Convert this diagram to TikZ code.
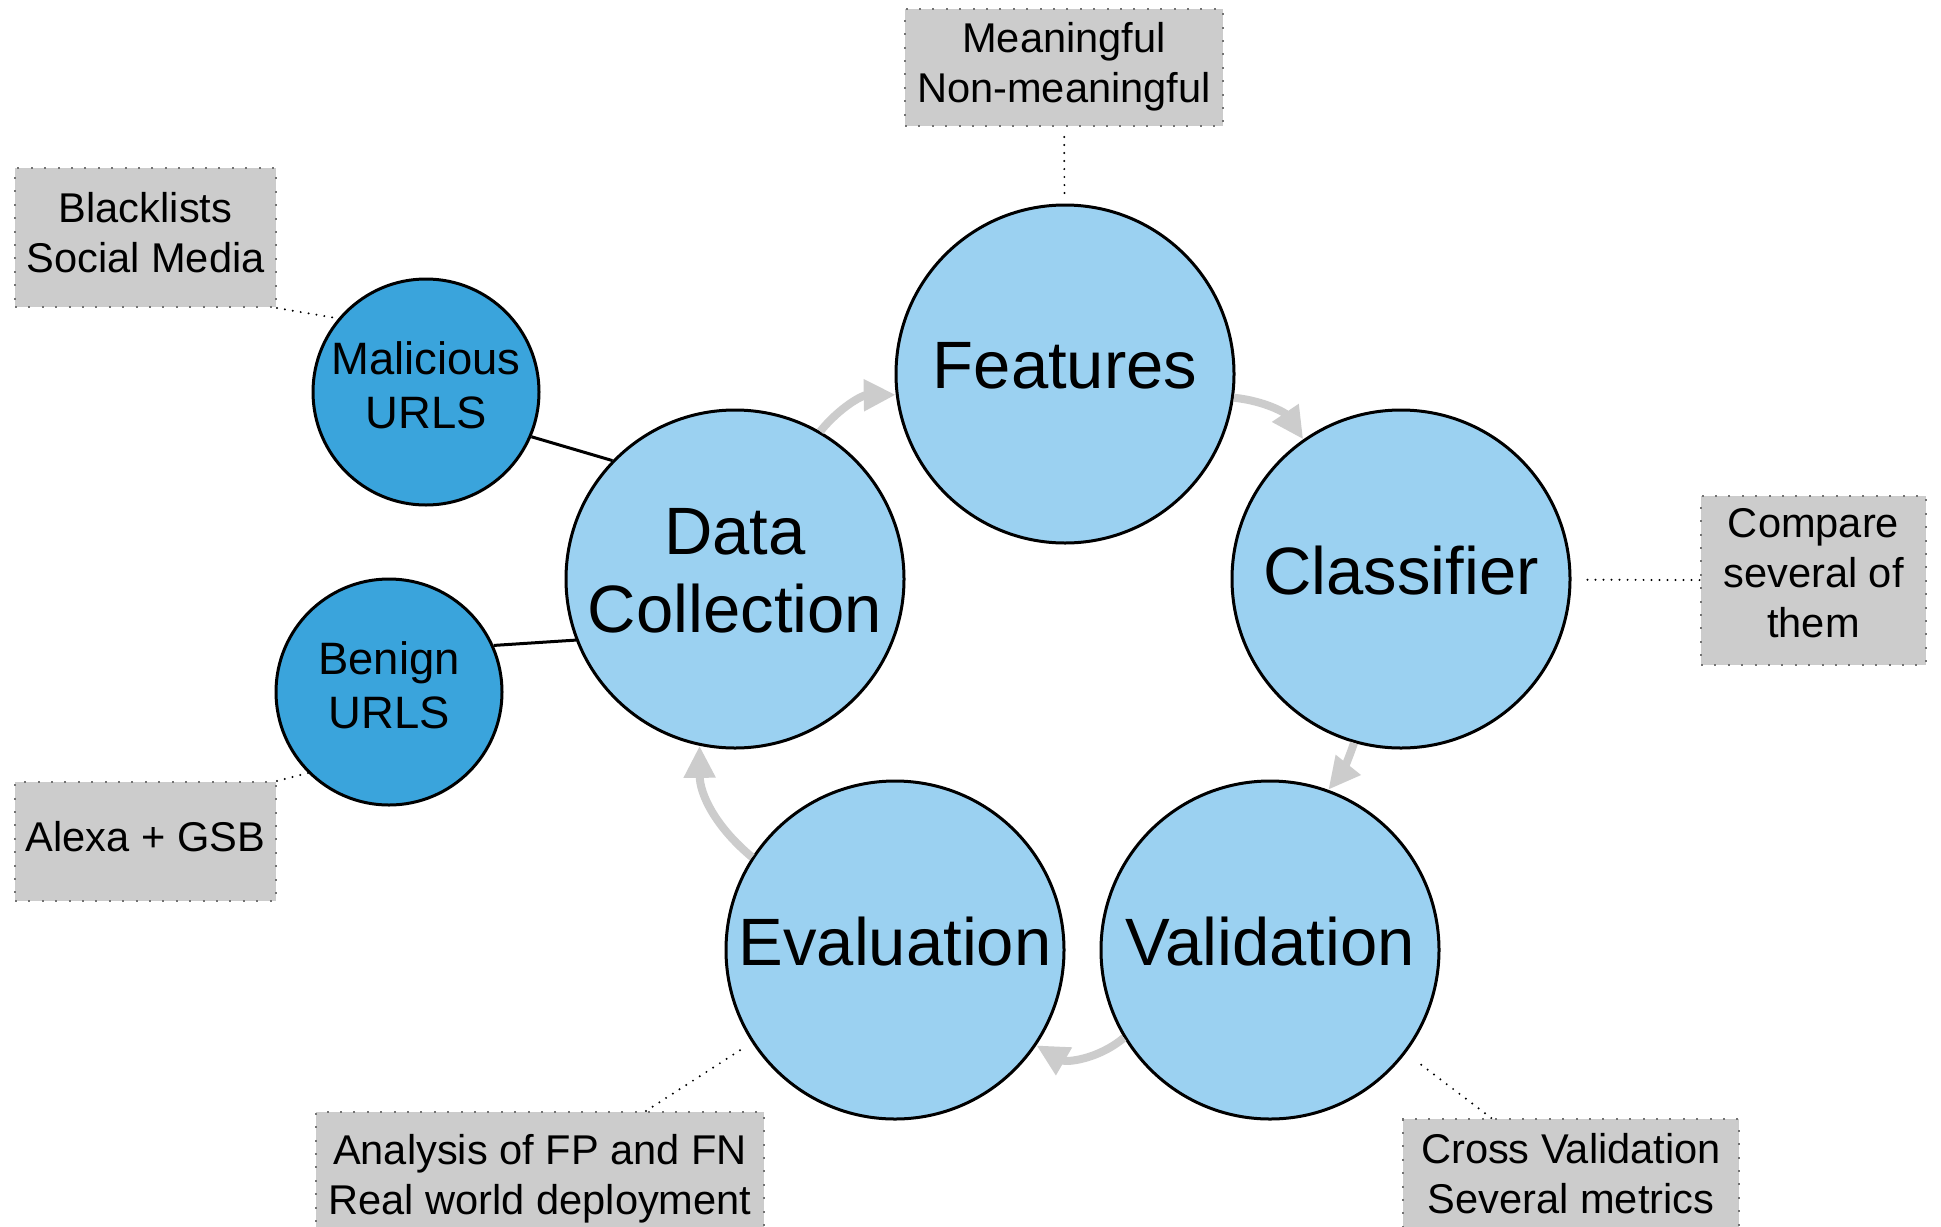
\documentclass[tikz,border=0pt]{standalone}
\usepackage{fontspec}
\setmainfont{Liberation Sans}
\usetikzlibrary{arrows.meta}
\definecolor{stepblue}{HTML}{9BD1F1}
\definecolor{urlblue}{HTML}{3AA4DC}
\definecolor{notegray}{HTML}{CCCCCC}

\begin{document}
\begin{tikzpicture}[x=0.5pt, y=-0.5pt,
    stage/.style = {circle, draw, line width=1.5pt, fill=stepblue,
      minimum size=169pt, inner sep=0pt, align=center, text depth=8.6pt,
      font=\fontsize{33.5}{39}\selectfont},
    source/.style = {circle, draw, line width=1.5pt, fill=urlblue,
      minimum size=113pt, inner sep=0pt, align=center, text depth=7.4pt,
      font=\fontsize{22.7}{27}\selectfont},
    note/.style = {draw=black!55, fill=notegray, line width=1pt,
      dash pattern=on 1pt off 5.7pt, inner sep=0pt, align=center,
      text depth=4.6pt, font=\fontsize{20.8}{25}\selectfont},
    flow/.style = {draw=notegray, line width=4pt,
      -{Triangle[length=16pt,width=15pt]}},
    hint/.style = {line width=1.1pt, line cap=round, dash pattern=on 0pt off 4pt}
    ]
    \useasboundingbox (0,0) rectangle (1941,1226);
    \fill[white] (0,0) rectangle (1941,1226);
    \clip (0,0) rectangle (1941,1226);

    % main cycle
    \node[stage] (feat) at (1065,374) {Features};
    \node[stage] (class) at (1401,579) {Classifier};
    \node[stage] (valid) at (1270,950) {Validation};
    \node[stage] (eval) at (895,950) {Evaluation};
    \node[stage] (data) at (735,579) {Data\\Collection};

    % url sources
    \node[source] (mal) at (426,392) {Malicious\\URLS};
    \node[source] (ben) at (389,692) {Benign\\URLS};

    % notes
    \node[note, minimum width=159pt, minimum height=58.5pt] (meaning) at (1064,67.5) {Meaningful\\Non-meaningful};
    \node[note, minimum width=130.5pt, minimum height=69.5pt] (black) at (145.5,237.5) {Blacklists\\Social Media};
    \node[note, minimum width=130.5pt, minimum height=59.5pt] (alexa) at (145.5,841.5) {Alexa + GSB};
    \node[note, minimum width=112.5pt, minimum height=84.5pt, text depth=7.4pt] (compare) at (1813.5,580.5) {Compare\\several of\\them};
    \node[note, minimum width=224pt, minimum height=67.5pt] (analysis) at (540,1179.5) {Analysis of FP and FN\\Real world deployment};
    \node[note, minimum width=168pt, minimum height=59.5pt] (cross) at (1571,1178.5) {Cross Validation\\Several metrics};

    \draw[line width=1.5pt] (mal.-23) -- (data.136);
    \draw[line width=1.5pt] (ben.24) -- (data.201);

    \draw[flow] (data.60) to[bend left=25] (feat.187);
    \draw[flow] (feat.352) to[bend left=25] (class.125);
    \draw[flow] (class.254) to[bend left=10] (valid.70);
    \draw[flow] (valid.211) to[bend left=35] (eval.326);
    \draw[flow] (eval.147) to[bend left=25] (data.258);

    \draw[hint, shorten <=5pt, shorten >=4.5pt] (meaning) -- (feat);
    \draw[hint] (black.south east) -- (mal.140);
    \draw[hint] (alexa.north east) -- (ben.225);
    \draw[hint, shorten <=8pt] (class) -- (compare);
    \draw[hint, shorten >=6pt] (analysis) -- (eval);
    \draw[hint, shorten >=7pt] (cross) -- (valid);
\end{tikzpicture}
\end{document}
